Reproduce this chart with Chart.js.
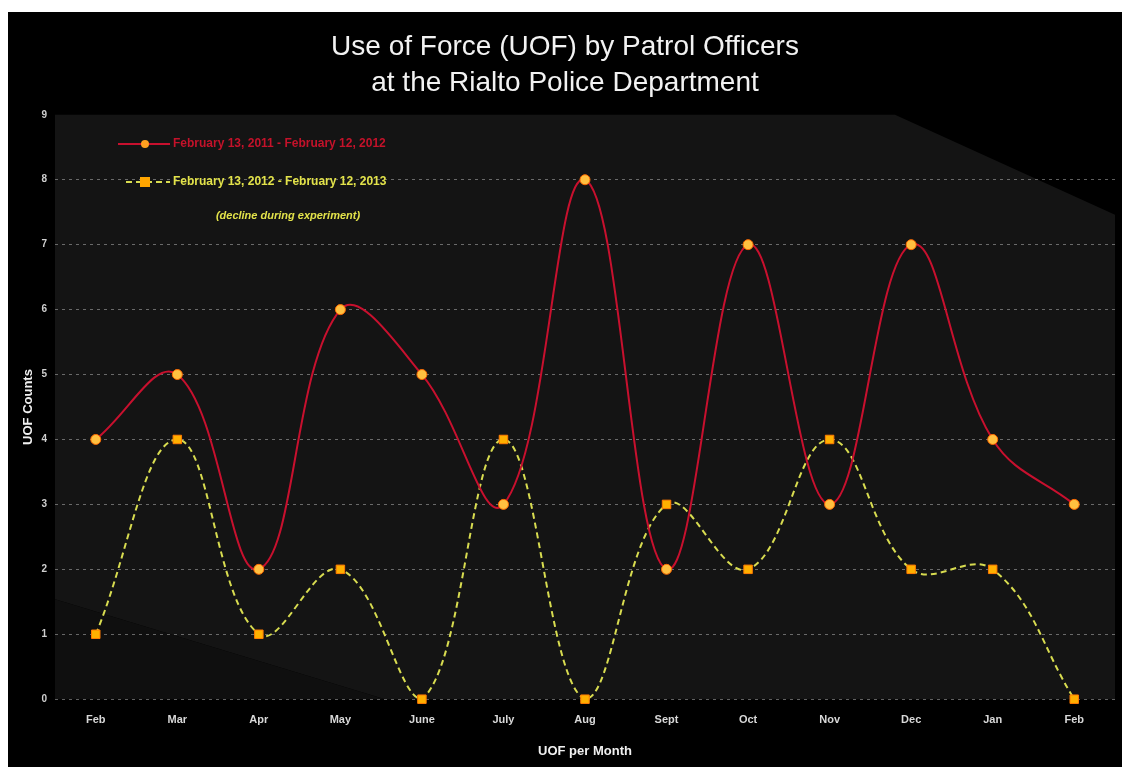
<!DOCTYPE html>
<html>
<head>
<meta charset="utf-8">
<script src="https://cdn.jsdelivr.net/npm/chart.js@4/dist/chart.umd.min.js"></script>
<style>
  html, body { margin: 0; padding: 0; background: #fff; }
  #wrap { position: absolute; left: 8px; top: 12px; width: 1114px; height: 755px; background: #000; }
</style>
</head>
<body>
<div id="wrap"><canvas id="Chart" width="1114" height="755"></canvas></div>
<script>
const months = ['Feb', 'Mar', 'Apr', 'May', 'June', 'July', 'Aug', 'Sept', 'Oct', 'Nov', 'Dec', 'Jan', 'Feb'];
const uof_2011 = [4, 5, 2, 6, 5, 3, 8, 2, 7, 3, 7, 4, 3];
const uof_2012 = [1, 4, 1, 2, 0, 4, 0, 3, 2, 4, 2, 2, 0];
const label_2011 = 'February 13, 2011 - February 12, 2012';
const label_2012 = 'February 13, 2012 - February 12, 2013';
const note_text = '(decline during experiment)';

const ctx = document.getElementById("Chart").getContext("2d");

// dark plot panel behind the lines
const panelBg = {
  id: 'panelBg',
  beforeDraw(chart) {
    const a = chart.chartArea, c = chart.ctx;
    c.save();
    c.fillStyle = '#141414';
    c.beginPath();
    c.moveTo(a.left, a.top);
    c.lineTo(a.left + 840, a.top);
    c.lineTo(a.right, a.top + 100);
    c.lineTo(a.right, a.bottom);
    c.lineTo(a.left + 330, a.bottom);
    c.lineTo(a.left, a.bottom - 100);
    c.closePath();
    c.fill();
    c.fillStyle = '#0f0f0f';
    c.beginPath();
    c.moveTo(a.left, a.bottom - 100);
    c.lineTo(a.left + 330, a.bottom);
    c.lineTo(a.left, a.bottom);
    c.closePath();
    c.fill();
    c.restore();
  }
};

// legend drawn inside plot, top-left
const innerLegend = {
  id: 'innerLegend',
  afterDraw(chart) {
    const c = chart.ctx;
    const x0 = 110, y1 = 132, y2 = 170;
    c.save();
    c.font = 'bold 12px "Liberation Sans", Arial, sans-serif';
    c.textBaseline = 'middle';
    // red entry
    c.strokeStyle = '#c8102e'; c.lineWidth = 2;
    c.beginPath(); c.moveTo(x0, y1); c.lineTo(x0 + 52, y1); c.stroke();
    c.fillStyle = '#ffa020';
    c.beginPath(); c.arc(x0 + 27, y1, 4, 0, Math.PI * 2); c.fill();
    c.fillStyle = '#c4122a';
    c.fillText(label_2011, x0 + 55, y1);
    // yellow entry
    c.strokeStyle = '#d8dc50'; c.setLineDash([6, 4]);
    c.beginPath(); c.moveTo(x0 + 8, y2); c.lineTo(x0 + 52, y2); c.stroke();
    c.setLineDash([]);
    c.fillStyle = '#ffa500';
    c.fillRect(x0 + 22, y2 - 5, 10, 10);
    c.fillStyle = '#e2e24a';
    c.fillText(label_2012, x0 + 55, y2);
    c.font = 'italic bold 11px "Liberation Sans", Arial, sans-serif';
    c.textAlign = 'center';
    c.fillText(note_text, 280, 204);
    c.restore();
  }
};

new Chart(ctx, {
  type: 'line',
  data: {
    labels: months,
    datasets: [{
      label: label_2011,
      data: uof_2011,
      borderColor: '#c8102e',
      backgroundColor: '#ffa020',
      borderWidth: 2,
      tension: 0.4,
      fill: false,
      clip: false,
      pointStyle: 'circle',
      pointRadius: 5,
      pointBorderColor: '#ff6a00',
      pointBackgroundColor: '#ffc040',
      pointBorderWidth: 1
    }, {
      label: label_2012,
      data: uof_2012,
      borderColor: '#d8dc50',
      backgroundColor: '#ffa500',
      borderWidth: 2,
      borderDash: [6, 4],
      tension: 0.4,
      fill: false,
      clip: false,
      pointStyle: 'rect',
      pointRadius: 6,
      pointBorderColor: '#ff7a00',
      pointBackgroundColor: '#ffb000',
      pointBorderWidth: 1
    }]
  },
  options: {
    responsive: false,
    animation: false,
    layout: { padding: { left: 0, right: 0, top: 0, bottom: 4 } },
    plugins: {
      legend: { display: false },
      tooltip: { enabled: false },
      title: {
        display: true,
        text: ['Use of Force (UOF) by Patrol Officers', 'at the Rialto Police Department'],
        color: '#f2f2f2',
        font: { family: '"Liberation Sans", Arial, sans-serif', size: 28, weight: 'normal', lineHeight: 1.3 },
        padding: { top: 17, bottom: 13 }
      }
    },
    scales: {
      x: {
        offset: true,
        grid: { display: false },
        border: { display: false },
        ticks: { color: '#d8d8d8', font: { family: '"Liberation Sans", Arial, sans-serif', size: 11, weight: 'bold' }, padding: 6 },
        title: { display: true, text: 'UOF per Month', color: '#f0f0f0', font: { family: '"Liberation Sans", Arial, sans-serif', size: 13, weight: 'bold' }, padding: { top: 11 } }
      },
      y: {
        min: 0,
        max: 9,
        ticks: { stepSize: 1, color: '#cfcfcf', font: { family: '"Liberation Sans", Arial, sans-serif', size: 10, weight: 'bold' }, padding: 8 },
        grid: {
          color: (c) => c.tick && c.tick.value === 9 ? 'rgba(0,0,0,0)' : 'rgba(210,210,210,0.45)',
          lineWidth: 1,
          drawTicks: false
        },
        border: { display: false, dash: [3, 4] },
        title: { display: true, text: 'UOF Counts', color: '#f0f0f0', font: { family: '"Liberation Sans", Arial, sans-serif', size: 13, weight: 'bold' }, padding: { top: 13, bottom: 0 } },
        afterFit(scale) { scale.width = 47; }
      }
    }
  },
  plugins: [panelBg, innerLegend]
});
</script>
</body>
</html>
